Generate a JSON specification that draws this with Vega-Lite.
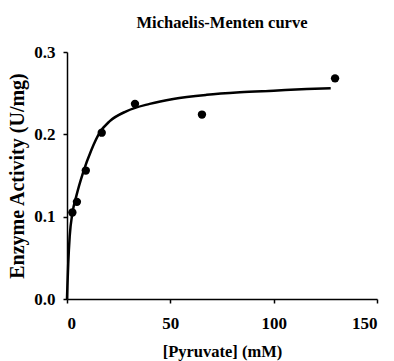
{
  "$schema": "https://vega.github.io/schema/vega-lite/v6.json",
  "autosize": {"type": "none"},
  "padding": {"left": 67, "top": 52, "right": 17, "bottom": 62},
  "width": 310,
  "height": 247,
  "background": "white",
  "config": {
    "view": {"stroke": null},
    "font": "Liberation Serif"
  },
  "title": {
    "text": "Michaelis-Menten curve",
    "font": "Liberation Serif",
    "fontSize": 16.5,
    "fontWeight": "bold",
    "color": "black",
    "anchor": "middle",
    "offset": 12
  },
  "datasets": {
    "points": [
      {"pyruvate": 2.6, "activity": 0.105},
      {"pyruvate": 4.8, "activity": 0.118},
      {"pyruvate": 9.1, "activity": 0.156},
      {"pyruvate": 16.8, "activity": 0.202},
      {"pyruvate": 32.9, "activity": 0.237},
      {"pyruvate": 65.3, "activity": 0.224},
      {"pyruvate": 129.7, "activity": 0.268}
    ],
    "curve": [
      {"pyruvate": 0, "activity": 0},
      {"pyruvate": 0.2, "activity": 0.016},
      {"pyruvate": 0.6, "activity": 0.043},
      {"pyruvate": 1.3, "activity": 0.076},
      {"pyruvate": 2.6, "activity": 0.104},
      {"pyruvate": 4.5, "activity": 0.125},
      {"pyruvate": 7.7, "activity": 0.153},
      {"pyruvate": 11.8, "activity": 0.181},
      {"pyruvate": 15.8, "activity": 0.202},
      {"pyruvate": 20.7, "activity": 0.216},
      {"pyruvate": 28.7, "activity": 0.228},
      {"pyruvate": 40, "activity": 0.237},
      {"pyruvate": 51.4, "activity": 0.243},
      {"pyruvate": 67.6, "activity": 0.248},
      {"pyruvate": 83.7, "activity": 0.251},
      {"pyruvate": 100, "activity": 0.253},
      {"pyruvate": 116, "activity": 0.255},
      {"pyruvate": 127.6, "activity": 0.256}
    ]
  },
  "encoding": {
    "x": {
      "field": "pyruvate",
      "type": "quantitative",
      "scale": {"domain": [0, 150], "nice": false, "zero": true},
      "axis": {
        "title": "[Pyruvate] (mM)",
        "values": [0, 50, 100, 150],
        "grid": false,
        "domainColor": "black",
        "domainWidth": 1.5,
        "tickColor": "black",
        "tickWidth": 1.5,
        "tickSize": 4,
        "labelPadding": 12,
        "labelFont": "Liberation Serif",
        "labelFontSize": 17,
        "labelFontWeight": "bold",
        "labelColor": "black",
        "titleFont": "Liberation Serif",
        "titleFontSize": 16.5,
        "titleFontWeight": "bold",
        "titleColor": "black",
        "titlePadding": 12
      }
    },
    "y": {
      "field": "activity",
      "type": "quantitative",
      "scale": {"domain": [0, 0.3], "nice": false},
      "axis": {
        "title": "Enzyme Activity (U/mg)",
        "values": [0, 0.1, 0.2, 0.3],
        "format": ".1f",
        "grid": false,
        "domainColor": "black",
        "domainWidth": 1.5,
        "tickColor": "black",
        "tickWidth": 1.5,
        "tickSize": 4,
        "labelPadding": 8,
        "labelFont": "Liberation Serif",
        "labelFontSize": 17,
        "labelFontWeight": "bold",
        "labelColor": "black",
        "titleFont": "Liberation Serif",
        "titleFontSize": 20,
        "titleFontWeight": "bold",
        "titleColor": "black",
        "titlePadding": 6
      }
    }
  },
  "layer": [
    {
      "data": {"name": "curve"},
      "mark": {"type": "line", "color": "black", "strokeWidth": 2.5, "interpolate": "monotone"}
    },
    {
      "data": {"name": "points"},
      "mark": {"type": "point", "filled": true, "color": "black", "opacity": 1, "size": 70, "shape": "circle"}
    }
  ]
}
